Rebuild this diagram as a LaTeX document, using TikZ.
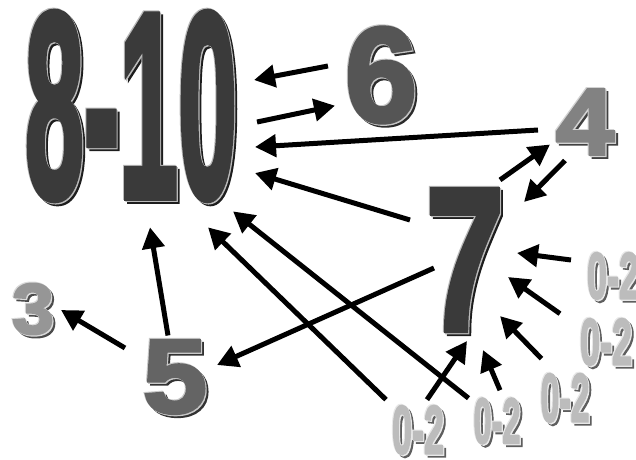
\documentclass[tikz,border=0pt]{standalone}
\usepackage{fontspec}
\setmainfont{Liberation Sans}
\newfontfamily\numfont{Liberation Sans}[BoldFont={* Bold}, BoldFeatures={FakeBold=3}]
\usepackage{graphicx}
\usepackage{xcolor}
\usetikzlibrary{arrows.meta}
\definecolor{tencol}{RGB}{58, 58, 58}
\definecolor{sixcol}{RGB}{85, 85, 85}
\definecolor{fivecol}{RGB}{100, 100, 100}
\definecolor{fourcol}{RGB}{130, 130, 130}
\definecolor{threecol}{RGB}{150, 150, 150}
\definecolor{lowcol}{RGB}{188, 188, 188}
\newlength{\pxu}
\setlength{\pxu}{0.02cm}
\tikzstyle{flowarrow} = [
    line width=0.1cm,
    -{Triangle[length=0.42cm, width=0.44cm]},
    color=black
]
\tikzstyle{numface} = [inner sep=0pt, outer sep=0pt, font=\numfont\bfseries]
% name, centre, width, height, colour, text
\newcommand{\numlabel}[6]{%
    \node[numface, text=#5!50!black, shift={(3,3)}] at (#2) {\resizebox{#3\pxu}{#4\pxu}{#6}};
    \node[numface, text=#5!35!white, shift={(1.2,1.2)}] at (#2) {\resizebox{#3\pxu}{#4\pxu}{#6}};
    \node[numface, text=#5!35!white, shift={(-1,-1)}] at (#2) {\resizebox{#3\pxu}{#4\pxu}{#6}};
    \node[numface, text=#5] (#1) at (#2) {\resizebox{#3\pxu}{#4\pxu}{#6}};
}

\begin{document}
\begin{tikzpicture}[x=0.02cm, y=-0.02cm]
        \useasboundingbox (0, 0) rectangle (636, 460);
        \clip (0, 0) rectangle (636, 460);

        % Numbers
        \numlabel{ten}{131, 106}{212}{184}{tencol}{8-10}
        \numlabel{six}{381, 75}{72}{94}{sixcol}{6}
        \numlabel{four}{585, 122}{58}{65}{fourcol}{4}
        \numlabel{seven}{465, 260}{78}{140}{tencol}{7}
        \numlabel{five}{175, 377}{64}{72}{fivecol}{5}
        \numlabel{three}{33, 309}{42}{50}{threecol}{3}

        % Low scores
        \numlabel{lowa}{418, 430}{52}{48}{lowcol}{0-2}
        \numlabel{lowb}{497, 421}{47}{45}{lowcol}{0-2}
        \numlabel{lowc}{565, 398}{49}{48}{lowcol}{0-2}
        \numlabel{lowd}{606, 342}{52}{46}{lowcol}{0-2}
        \numlabel{lowe}{613, 276}{52}{46}{lowcol}{0-2}

        % Arrows around 8-10
        \draw[flowarrow] ([shift={(-17,-9)}]six.west) -- ([shift={(17,-26)}]ten.east);
        \draw[flowarrow] ([shift={(20,16)}]ten.east) -- ([shift={(-10,-17)}]six.south west);
        \draw[flowarrow] ([shift={(-18,8)}]four.west) -- ([shift={(18,41)}]ten.east);
        \draw[flowarrow] ([shift={(-16,-40)}]seven.west) -- ([shift={(18,67)}]ten.east);
        \draw[flowarrow] ([shift={(-7,-5)}]five.north) -- ([shift={(19,28)}]ten.south);
        \draw[flowarrow] ([shift={(-32,-6)}]lowa.north) -- ([shift={(-29,28)}]ten.south east);
        \draw[flowarrow] ([shift={(-5,0)}]lowb.north west) -- ([shift={(-4,12)}]ten.south east);

        % Arrows around 7
        \draw[flowarrow] ([shift={(35,-10)}]seven.north) -- ([shift={(-6,-10)}]four.south west);
        \draw[flowarrow] ([shift={(-20,6)}]four.south) -- ([shift={(20,12)}]seven.north east);
        \draw[flowarrow] ([shift={(8,8)}]seven.west) -- ([shift={(10,-12)}]five.east);
        \draw[flowarrow] ([shift={(-18,-29)}]five.west) -- ([shift={(7,1)}]three.east);

        % Low scores into 7
        \draw[flowarrow] ([shift={(9,-6)}]lowa.north) -- ([shift={(2,11)}]seven.south);
        \draw[flowarrow] ([shift={(3,-8)}]lowb.north) -- ([shift={(18,20)}]seven.south);
        \draw[flowarrow] ([shift={(1,-15)}]lowc.north west) -- ([shift={(-4,-14)}]seven.south east);
        \draw[flowarrow] ([shift={(-20,-5)}]lowd.north west) -- ([shift={(4,17)}]seven.east);
        \draw[flowarrow] ([shift={(-16,-16)}]lowe.west) -- ([shift={(13,-7)}]seven.east);
    \end{tikzpicture}
\end{document}
